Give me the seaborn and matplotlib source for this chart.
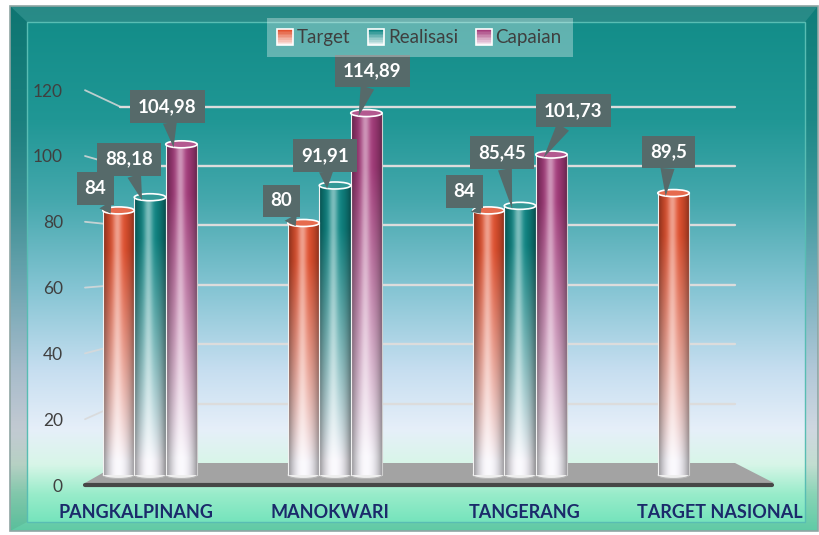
import numpy as np
import pandas as pd
import matplotlib
matplotlib.use("Agg")
import matplotlib.pyplot as plt
import seaborn as sns
from matplotlib import font_manager
from matplotlib.patches import Polygon, Ellipse, Rectangle
from matplotlib.legend_handler import HandlerBase
from matplotlib.colors import to_rgb

# ---------------- data ----------------
categories = ["PANGKALPINANG", "MANOKWARI", "TANGERANG", "TARGET NASIONAL"]
series = ["Target", "Realisasi", "Capaian"]
target = [84, 80, 84, 89.5]
realisasi = [88.18, 91.91, 85.45, np.nan]
capaian = [104.98, 114.89, 101.73, np.nan]
y_ticks = [0, 20, 40, 60, 80, 100, 120]

# label box offsets (pixels, relative to bar top centre; +y = up)
label_offsets = {
    (0, 0): (-23, 22), (0, 1): (-21, 38), (0, 2): (-14, 38),
    (1, 0): (-22, 22), (1, 1): (-10, 30), (1, 2): (6, 42),
    (2, 0): (-24, 19), (2, 1): (-18, 53), (2, 2): (22, 44),
    (3, 0): (-5, 41),
}

df = pd.DataFrame({
    "kota": categories * 3,
    "seri": [s for s in series for _ in categories],
    "nilai": target + realisasi + capaian,
})

bar_colors = {"Target": "#e2512f", "Realisasi": "#0f8785", "Capaian": "#a53c7c"}

sns.set_theme(style="white")
names = {f.name for f in font_manager.fontManager.ttflist}
FONT = "Lato" if "Lato" in names else "DejaVu Sans"
plt.rcParams["font.family"] = [FONT, "DejaVu Sans"]

W, H = 820, 535
fig = plt.figure(figsize=(W / 100, H / 100), dpi=100)

# ---------------- background (pixel coords) ----------------
bg = fig.add_axes([0, 0, 1, 1], zorder=0)
bg.set_xlim(0, W)
bg.set_ylim(H, 0)
bg.axis("off")

stops = [(0, "#118a86"), (22, "#138d89"), (120, "#209795"), (200, "#45a8ad"),
         (290, "#86c5d4"), (370, "#c6def0"), (430, "#e6eff9"), (465, "#d8f6e8"),
         (495, "#98ecca"), (535, "#66e0b6")]
sy = np.array([s[0] for s in stops], float)
sc = np.array([to_rgb(s[1]) for s in stops])


def vgrad(y0, y1, dark=1.0):
    ys = np.linspace(y0, y1, 300)
    col = np.stack([np.interp(ys, sy, sc[:, k]) for k in range(3)], axis=-1)
    return np.clip(col * dark, 0, 1)[:, None, :]


bg.add_patch(Rectangle((0, 0), W, H, color="white", zorder=0))
bg.imshow(vgrad(6, 531, 0.9), extent=(10, 818, 531, 6), aspect="auto", zorder=1)
bg.add_patch(Polygon([(10, 6), (818, 6), (805, 22), (27, 22)], closed=True,
                     fc="white", alpha=0.10, ec="none", zorder=1.5))
bg.add_patch(Polygon([(10, 6), (27, 22), (27, 522), (10, 531)], closed=True,
                     fc="black", alpha=0.06, ec="none", zorder=1.5))
bg.add_patch(Rectangle((10, 6), 808, 525, fc="none", ec="#8fa5a3", lw=1.2, zorder=1.6))
bg.imshow(vgrad(22, 522), extent=(27, 805, 522, 22), aspect="auto", zorder=2)
bg.add_patch(Rectangle((27, 22), 778, 500, fc="none", ec="#58bdb3", lw=1.0, zorder=2.1))

# walls / gridlines (perspective)
for v in y_ticks[1:]:
    yf = 485 - 3.29 * v
    yb = 463 - 2.97 * v
    bg.plot([85, 120], [yf, yb], color="#d9d9d9", lw=1.3, alpha=0.85, zorder=3,
            solid_capstyle="round")
    bg.plot([120, 735], [yb, yb], color="#dcdcdc", lw=1.7, zorder=3)
bg.add_patch(Polygon([(120, 463), (735, 463), (774, 483), (85, 483)], closed=True,
                     fc="#a3a3a3", ec="none", zorder=3))
bg.plot([85, 772], [484.5, 484.5], color="#474747", lw=3, zorder=3.1,
        solid_capstyle="round")
bg.set_xlim(0, W)
bg.set_ylim(H, 0)

# ---------------- main axes ----------------
PX0 = 475.0      # pixel row of value 0 on bars
PPU = 3.15       # pixels per unit
AX_BOT, AX_TOP = 490, 60
XL, XR = 85, 775
PX_C0, PX_STEP = 150.0, 185.0

ax = fig.add_axes([XL / W, (H - AX_BOT) / H, (XR - XL) / W, (AX_BOT - AX_TOP) / H], zorder=2)
ax.patch.set_alpha(0)

sns.barplot(data=df, x="kota", y="nilai", hue="seri", order=categories,
            hue_order=series, palette=bar_colors, width=0.51, gap=0,
            errorbar=None, saturation=1, legend=False, ax=ax)

xlim = ((XL - PX_C0) / PX_STEP, (XR - PX_C0) / PX_STEP)
ylim = ((PX0 - AX_BOT) / PPU, (PX0 - AX_TOP) / PPU)


def bar_img(base, nrow=240, ncol=64):
    t = np.linspace(1, 0, nrow)[:, None]
    u = np.linspace(0, 1, ncol)[None, :]
    b = np.array(to_rgb(base))
    low = np.array(to_rgb("#f8f6fc"))
    m = np.clip((t - 0.05) / 0.8, 0, 1) ** 0.95
    col = low * (1 - m[..., None]) + b * m[..., None]
    shade = 1 - 0.42 * np.abs(2 * u - 1) ** 2.2
    col = col * shade[..., None]
    hl = 0.45 * np.exp(-((u - 0.45) / 0.14) ** 2)
    col = col + (1 - col) * hl[..., None]
    return np.clip(col, 0, 1)


BOX = "#566a6a"
cap_h = 7 / PPU
for s_idx, (sname, cont) in enumerate(zip(series, ax.containers)):
    base = np.array(to_rgb(bar_colors[sname]))
    for bar in cont:
        h = bar.get_height()
        if not np.isfinite(h) or h == 0:
            continue
        bar.set_visible(False)
        x0, w = bar.get_x(), bar.get_width()
        xc = x0 + w / 2
        cat = int(round(xc))
        ax.add_patch(Ellipse((xc, 0), w, cap_h, fc="#eeeeee", ec="#b5b5b5", lw=0.8, zorder=2.9))
        ax.imshow(bar_img(bar_colors[sname]), extent=(x0, x0 + w, 0, h), aspect="auto",
                  origin="upper", interpolation="bilinear", zorder=3)
        ax.plot([x0, x0], [0, h], color="#f2f2f2", lw=0.8, zorder=3.2)
        ax.plot([x0 + w, x0 + w], [0, h], color="#cfcfcf", lw=0.8, zorder=3.2)
        capc = np.clip(base * 0.85 + 0.15, 0, 1)
        ax.add_patch(Ellipse((xc, h), w, cap_h, fc=capc, ec="white", lw=1.2, zorder=4))

        dx, dy = label_offsets[(cat, s_idx)]
        tipx = xc - 0.25 * w
        tipy = h - 1.0
        off = (dx + 0.25 * w * PX_STEP, dy + 1.0 * PPU)
        txt = f"{h:g}".replace(".", ",")
        ax.annotate(txt, xy=(tipx, tipy), xytext=off, textcoords="offset pixels",
                    ha="center", va="center", color="white", fontsize=13.5,
                    fontweight="bold", zorder=6,
                    bbox=dict(boxstyle="square,pad=0.42", fc=BOX, ec="none"),
                    arrowprops=dict(arrowstyle="wedge,tail_width=0.75,shrink_factor=0.5",
                                    fc=BOX, ec="none", shrinkA=0, shrinkB=0))

ax.set_xlim(*xlim)
ax.set_ylim(*ylim)

ax.set_yticks([(PX0 - (485 - 3.29 * v)) / PPU for v in y_ticks],
              labels=[str(v) for v in y_ticks])
ax.tick_params(axis="y", length=0, pad=16, labelsize=12.5, labelcolor="#404040")
ax.set_xticks([1.5 + (i - 1.5) * 1.052 for i in range(len(categories))],
              labels=categories)
ax.tick_params(axis="x", length=0, pad=10, labelsize=13, labelcolor="#1b2a6b")
for t in ax.get_xticklabels():
    t.set_fontweight("bold")
ax.set_xlabel("")
ax.set_ylabel("")
for sp in ax.spines.values():
    sp.set_visible(False)
ax.grid(False)


# ---------------- legend ----------------
class GradHandler(HandlerBase):
    def __init__(self, color):
        super().__init__()
        self.color = np.array(to_rgb(color))

    def create_artists(self, legend, orig_handle, xdescent, ydescent, width,
                       height, fontsize, trans):
        arts = []
        n = 10
        sq = height * 1.05
        x0 = -xdescent + (width - sq) / 2
        y0 = -ydescent - 0.05 * height
        for k in range(n):
            m = 0.15 + 0.85 * (k / (n - 1))
            c = (1 - m) * np.ones(3) + m * self.color
            arts.append(Rectangle((x0, y0 + k * sq / n), sq, sq / n + 0.3,
                                  fc=c, ec="none", transform=trans))
        arts.append(Rectangle((x0, y0), sq, sq, fc="none", ec="white", lw=1.2,
                              transform=trans))
        return arts


handles = [Rectangle((0, 0), 1, 1) for _ in series]
hmap = {h: GradHandler(bar_colors[s]) for h, s in zip(handles, series)}
leg = fig.legend(handles, series, handler_map=hmap, loc="center",
                 bbox_to_anchor=(420 / W, 1 - 37.5 / H), ncol=3, frameon=True,
                 facecolor="white", framealpha=0.33, edgecolor="none",
                 fancybox=False, fontsize=13.5, handlelength=0.75,
                 handleheight=0.85, handletextpad=0.25, columnspacing=1.0,
                 borderpad=0.6, borderaxespad=0)
for t in leg.get_texts():
    t.set_color("#3f3f3f")

fig.savefig("out.png", dpi=100)
